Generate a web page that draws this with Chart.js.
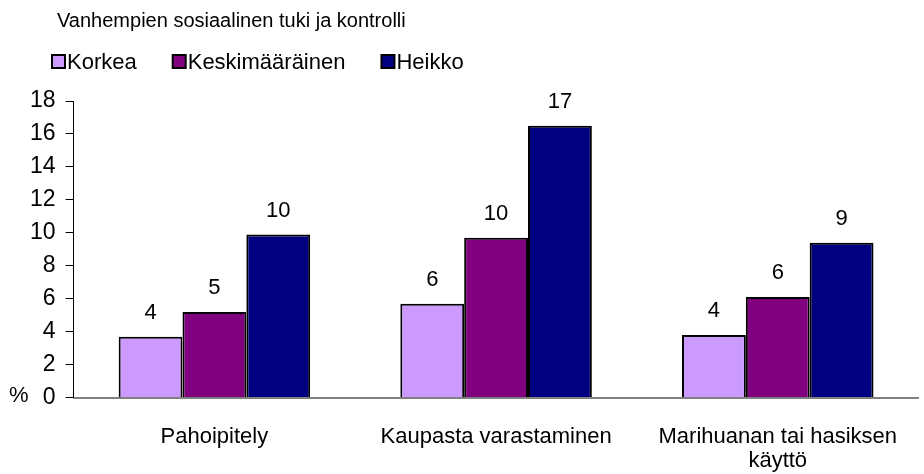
<!DOCTYPE html>
<html>
<head>
<meta charset="utf-8">
<script src="https://cdn.jsdelivr.net/npm/chart.js@4.4.1/dist/chart.umd.min.js"></script>
<style>
  html, body { margin: 0; padding: 0; background: #fff; }
  #wrap { width: 924px; height: 474px; position: relative; }
</style>
</head>
<body>
<div id="wrap"><canvas id="chart"></canvas></div>
<script>
const TITLE = "Vanhempien sosiaalinen tuki ja kontrolli";
const CATEGORIES = ["Pahoipitely", "Kaupasta varastaminen", ["Marihuanan tai hasiksen", "käyttö"]];
const SERIES_NAMES = ["Korkea", "Keskimääräinen", "Heikko"];
const KORKEA = [3.7, 5.7, 3.8];
const KESKIMAARAINEN = [5.2, 9.7, 6.1];
const HEIKKO = [9.9, 16.5, 9.4];
const Y_MIN = 0;
const Y_MAX = 18;
const Y_STEP = 2;
const UNIT = "%";

const COLORS = ["#cc99ff", "#800080", "#000080"];
const FONT = "'Liberation Sans', Arial, sans-serif";

// title, legend and the "%" unit are drawn by hand to match the original layout
const headerPlugin = {
  id: "header",
  afterDraw(chart) {
    const ctx = chart.ctx;
    ctx.save();
    ctx.fillStyle = "#000";
    ctx.textBaseline = "alphabetic";
    ctx.font = `20px ${FONT}`;
    ctx.fillText(TITLE, 57, 27);

    ctx.font = `22px ${FONT}`;
    let x = 52;
    chart.data.datasets.forEach(ds => {
      ctx.fillStyle = ds.backgroundColor;
      ctx.fillRect(x, 55, 13, 13);
      ctx.lineWidth = 2;
      ctx.strokeStyle = "#000";
      ctx.strokeRect(x, 55, 13, 13);
      ctx.fillStyle = "#000";
      ctx.fillText(ds.label, x + 15, 69);
      x += 15 + ctx.measureText(ds.label).width + 36;
    });

    const y0 = chart.scales.y.getPixelForValue(Y_MIN);
    ctx.font = `22px ${FONT}`;
    ctx.textBaseline = "middle";
    ctx.fillText(UNIT, 9, y0 - 2);
    ctx.restore();
  }
};

const valueLabels = {
  id: "valueLabels",
  afterDatasetsDraw(chart) {
    const ctx = chart.ctx;
    ctx.save();
    ctx.fillStyle = "#000";
    ctx.font = `22px ${FONT}`;
    ctx.textAlign = "center";
    ctx.textBaseline = "middle";
    chart.data.datasets.forEach((ds, i) => {
      chart.getDatasetMeta(i).data.forEach((bar, j) => {
        ctx.fillText(String(Math.round(ds.data[j])), bar.x, bar.y - 24);
      });
    });
    ctx.restore();
  }
};

const seriesData = [KORKEA, KESKIMAARAINEN, HEIKKO];

new Chart(document.getElementById("chart"), {
  type: "bar",
  data: {
    labels: CATEGORIES,
    datasets: SERIES_NAMES.map((name, i) => ({
      label: name,
      data: seriesData[i],
      backgroundColor: COLORS[i],
      borderColor: "#000",
      borderWidth: 2,
      categoryPercentage: 0.68,
      barPercentage: 1.0
    }))
  },
  options: {
    responsive: true,
    maintainAspectRatio: false,
    animation: false,
    layout: { padding: { top: 101, left: 20, right: 0, bottom: -26 } },
    plugins: {
      legend: { display: false },
      title: { display: false },
      tooltip: { enabled: false }
    },
    scales: {
      x: {
        grid: { display: false, drawTicks: false },
        border: { color: "#808080", width: 2 },
        ticks: {
          color: "#000",
          font: { family: FONT, size: 22, lineHeight: 1.1 },
          padding: 27,
          maxRotation: 0,
          autoSkip: false
        }
      },
      y: {
        min: Y_MIN,
        max: Y_MAX,
        grid: { display: true, drawOnChartArea: false, drawTicks: true, tickLength: 8, color: "#000" },
        border: { color: "#000", width: 1 },
        ticks: {
          stepSize: Y_STEP,
          color: "#000",
          font: { family: FONT, size: 23 },
          padding: 10
        }
      }
    }
  },
  plugins: [headerPlugin, valueLabels]
});
</script>
</body>
</html>
